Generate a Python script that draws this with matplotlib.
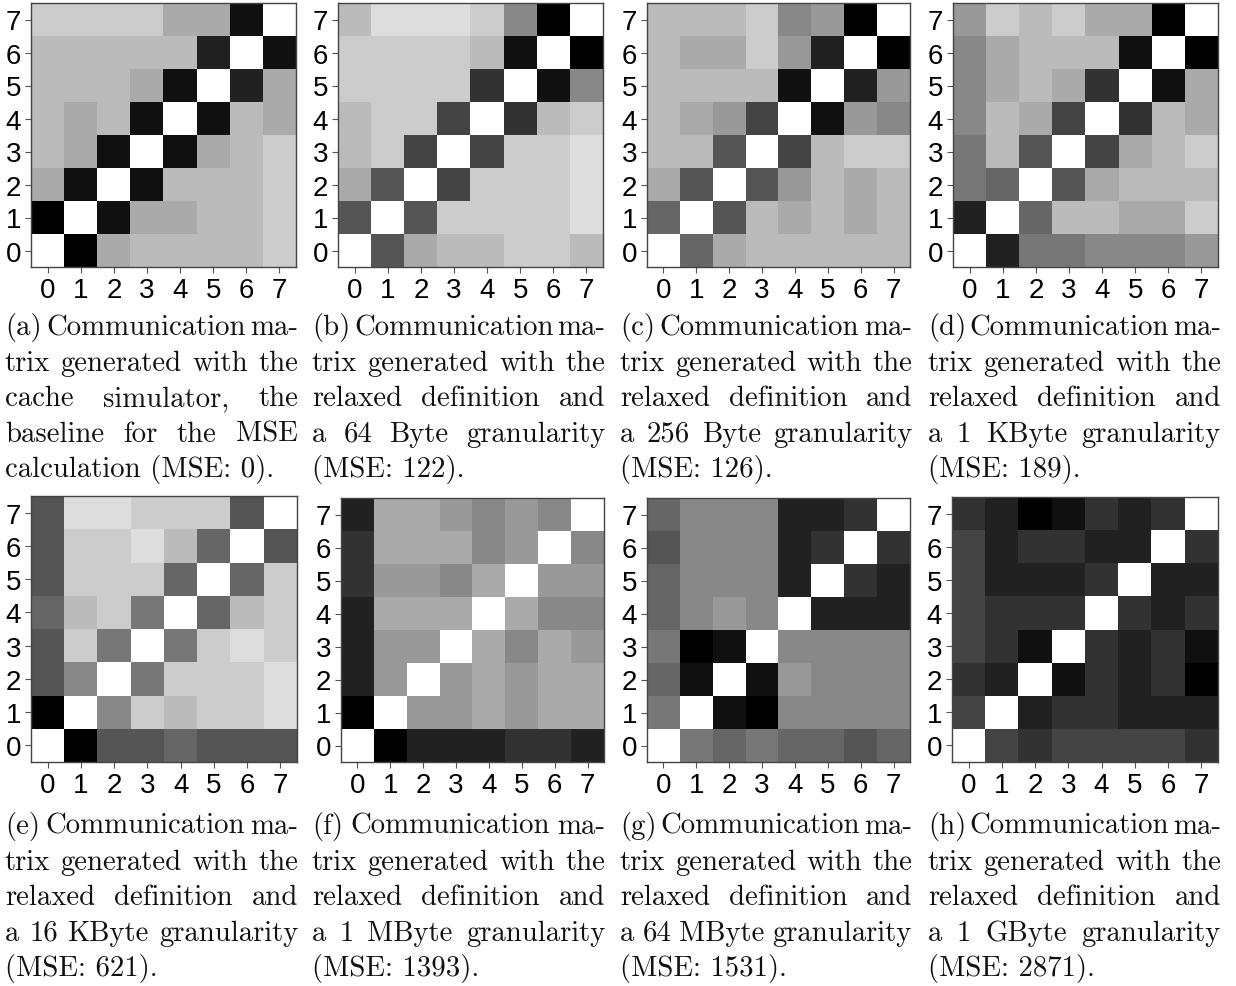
import numpy as np
import matplotlib
matplotlib.use('Agg')
import matplotlib.pyplot as plt

# communication intensity per thread pair, 0 = none (white) .. 15 = most (black)
# rows are listed from thread 0 (bottom) up to thread 7 (top)
mat_a = [
    [0, 15, 5, 4, 4, 4, 4, 3],
    [15, 0, 14, 5, 5, 4, 4, 3],
    [5, 14, 0, 14, 4, 4, 4, 3],
    [4, 5, 14, 0, 14, 5, 4, 3],
    [4, 5, 4, 14, 0, 14, 4, 5],
    [4, 4, 4, 5, 14, 0, 13, 5],
    [4, 4, 4, 4, 4, 13, 0, 14],
    [3, 3, 3, 3, 5, 5, 14, 0],
]
mat_b = [
    [0, 10, 5, 4, 4, 3, 3, 4],
    [10, 0, 10, 3, 3, 3, 3, 2],
    [5, 10, 0, 11, 3, 3, 3, 2],
    [4, 3, 11, 0, 11, 3, 3, 2],
    [4, 3, 3, 11, 0, 12, 4, 3],
    [3, 3, 3, 3, 12, 0, 14, 7],
    [3, 3, 3, 3, 4, 14, 0, 15],
    [4, 2, 2, 2, 3, 7, 15, 0],
]
mat_c = [
    [0, 9, 5, 4, 4, 4, 4, 4],
    [9, 0, 10, 4, 5, 4, 5, 4],
    [5, 10, 0, 10, 6, 4, 5, 4],
    [4, 4, 10, 0, 11, 4, 3, 3],
    [4, 5, 6, 11, 0, 14, 6, 7],
    [4, 4, 4, 4, 14, 0, 13, 6],
    [4, 5, 5, 3, 6, 13, 0, 15],
    [4, 4, 4, 3, 7, 6, 15, 0],
]
mat_d = [
    [0, 13, 8, 8, 7, 7, 7, 6],
    [13, 0, 9, 4, 4, 5, 5, 3],
    [8, 9, 0, 10, 5, 4, 4, 4],
    [8, 4, 10, 0, 11, 5, 4, 3],
    [7, 4, 5, 11, 0, 12, 4, 5],
    [7, 5, 4, 5, 12, 0, 14, 5],
    [7, 5, 4, 4, 4, 14, 0, 15],
    [6, 3, 4, 3, 5, 5, 15, 0],
]
mat_e = [
    [0, 15, 10, 10, 9, 10, 10, 10],
    [15, 0, 7, 3, 4, 3, 3, 2],
    [10, 7, 0, 8, 3, 3, 3, 2],
    [10, 3, 8, 0, 8, 3, 2, 3],
    [9, 4, 3, 8, 0, 9, 4, 3],
    [10, 3, 3, 3, 9, 0, 9, 3],
    [10, 3, 3, 2, 4, 9, 0, 10],
    [10, 2, 2, 3, 3, 3, 10, 0],
]
mat_f = [
    [0, 15, 13, 13, 13, 12, 12, 13],
    [15, 0, 6, 6, 5, 6, 5, 5],
    [13, 6, 0, 6, 5, 6, 5, 5],
    [13, 6, 6, 0, 5, 7, 5, 6],
    [13, 5, 5, 5, 0, 5, 7, 7],
    [12, 6, 6, 7, 5, 0, 6, 6],
    [12, 5, 5, 5, 7, 6, 0, 7],
    [13, 5, 5, 6, 7, 6, 7, 0],
]
mat_g = [
    [0, 8, 9, 8, 9, 9, 10, 9],
    [8, 0, 14, 15, 7, 7, 7, 7],
    [9, 14, 0, 14, 6, 7, 7, 7],
    [8, 15, 14, 0, 7, 7, 7, 7],
    [9, 7, 6, 7, 0, 13, 13, 13],
    [9, 7, 7, 7, 13, 0, 12, 13],
    [10, 7, 7, 7, 13, 12, 0, 12],
    [9, 7, 7, 7, 13, 13, 12, 0],
]
mat_h = [
    [0, 11, 12, 11, 11, 11, 11, 12],
    [11, 0, 13, 12, 12, 13, 13, 13],
    [12, 13, 0, 14, 12, 13, 12, 15],
    [11, 12, 14, 0, 12, 13, 12, 14],
    [11, 12, 12, 12, 0, 12, 13, 12],
    [11, 13, 13, 13, 12, 0, 13, 13],
    [11, 13, 12, 12, 13, 13, 0, 12],
    [12, 13, 15, 14, 12, 13, 12, 0],
]
matrices = [mat_a, mat_b, mat_c, mat_d, mat_e, mat_f, mat_g, mat_h]

threads = list(range(8))

head = ["Communication ma-", "trix generated with the"]
relaxed = "relaxed definition and"
captions = [
    ["(a) " + head[0], head[1], "cache simulator, the",
     "baseline for the MSE", "calculation (MSE: 0)."],
    ["(b) " + head[0], head[1], relaxed, "a 64 Byte granularity", "(MSE: 122)."],
    ["(c) " + head[0], head[1], relaxed, "a 256 Byte granularity", "(MSE: 126)."],
    ["(d) " + head[0], head[1], relaxed, "a 1 KByte granularity", "(MSE: 189)."],
    ["(e) " + head[0], head[1], relaxed, "a 16 KByte granularity", "(MSE: 621)."],
    ["(f) " + head[0], head[1], relaxed, "a 1 MByte granularity", "(MSE: 1393)."],
    ["(g) " + head[0], head[1], relaxed, "a 64 MByte granularity", "(MSE: 1531)."],
    ["(h) " + head[0], head[1], relaxed, "a 1 GByte granularity", "(MSE: 2871)."],
]

W, H = 1236, 987
fig = plt.figure(figsize=(W / 100, H / 100), dpi=100)

# panel boxes in pixels: left, top, right, bottom
boxes = [
    (31, 4, 296, 268), (338, 4, 603, 268), (647, 4, 910, 268), (953, 4, 1218, 268),
    (31, 497, 297, 763), (341, 499, 604, 763), (647, 499, 910, 763), (952, 498, 1218, 763),
]
# caption column: left, right, first baseline
cap_cols = [
    (5, 298, 335), (312, 605, 335), (620, 912, 335), (928, 1221, 335),
    (5, 298, 834), (312, 605, 834), (620, 912, 834), (928, 1221, 834),
]
line_step = 35.6
cap_font = dict(family='cmr10', size=20.7, color='#111111')

for m, (l, t, r, b) in zip(matrices, boxes):
    ax = fig.add_axes([l / W, 1 - b / H, (r - l) / W, (b - t) / H])
    ax.imshow(np.array(m), cmap='gray_r', vmin=0, vmax=15, origin='lower',
              interpolation='nearest', aspect='auto')
    ax.set_xticks(threads)
    ax.set_yticks(threads)
    ax.tick_params(length=4, width=0.8, pad=3, labelsize=20, color='#555555')
    for lab in ax.get_xticklabels() + ax.get_yticklabels():
        lab.set_family('Liberation Sans')
    for sp in ax.spines.values():
        sp.set_linewidth(1.0)
        sp.set_color('#444444')

renderer = fig.canvas.get_renderer()

# justified caption lines, the last line of each caption is left aligned
for lines, (x0, x1, y0) in zip(captions, cap_cols):
    for i, line in enumerate(lines):
        y = 1 - (y0 + i * line_step) / H
        if i == len(lines) - 1:
            fig.text(x0 / W, y, line, va='baseline', ha='left', **cap_font)
            continue
        words = line.split()
        texts = [fig.text(0, y, w, va='baseline', ha='left', **cap_font) for w in words]
        widths = [tx.get_window_extent(renderer).width for tx in texts]
        gap = (x1 - x0 - sum(widths)) / (len(words) - 1)
        x = x0
        for tx, w in zip(texts, widths):
            tx.set_x(x / W)
            x += w + gap

fig.savefig('out.png', dpi=100)
